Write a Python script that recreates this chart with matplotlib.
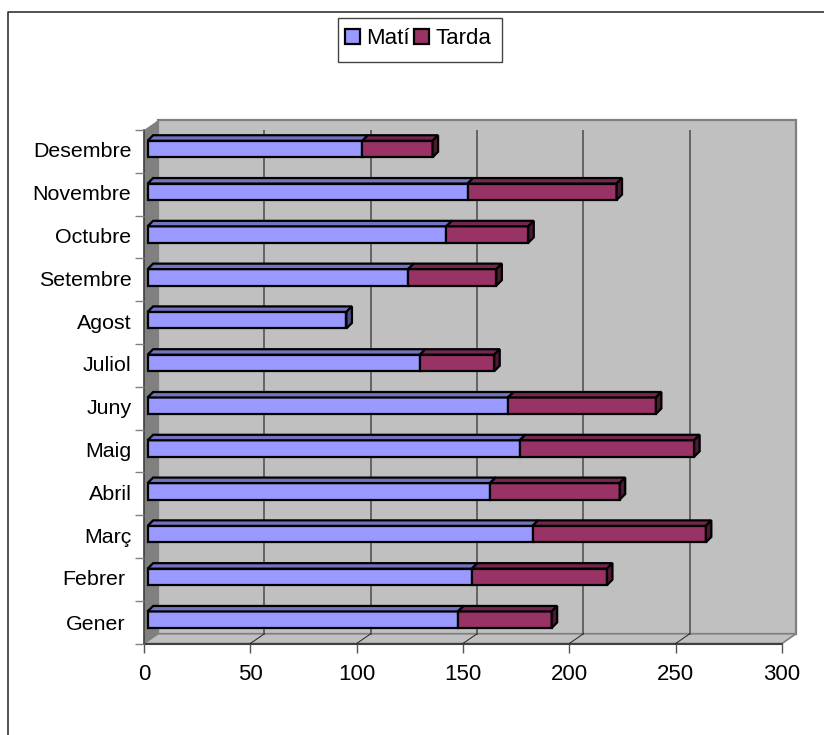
import matplotlib
matplotlib.use('Agg')
import matplotlib.pyplot as plt
from matplotlib.lines import Line2D
from matplotlib.patches import Patch, Polygon, Rectangle
from matplotlib.transforms import Affine2D
import numpy as np

mesos = ['Gener', 'Febrer', 'Març', 'Abril', 'Maig', 'Juny', 'Juliol',
         'Agost', 'Setembre', 'Octubre', 'Novembre', 'Desembre']
mati = [146, 152.5, 181, 161, 175, 169.5, 128, 93.5, 122.5, 140.5, 150.5, 101]
tarda = [44, 63.5, 81.5, 61, 82, 69.5, 35, 0, 41.5, 38.5, 70, 33]
ticks_x = [0, 50, 100, 150, 200, 250, 300]

plt.rcParams['font.family'] = ['Liberation Sans', 'DejaVu Sans']

W, H = 824, 735
fig = plt.figure(figsize=(W / 100, H / 100), dpi=100)
# front plane of the fake 3d box, in pixels
left, right, top, bottom = 144, 782, 130, 643.5
ax = fig.add_axes([left / W, 1 - bottom / H, (right - left) / W, (bottom - top) / H])
ax.set_xlim(0, 300)
ax.set_ylim(-0.5, 11.5)
ax.set_facecolor('none')
for s in ax.spines.values():
    s.set_visible(False)

ux = 300 / (right - left)
uy = 12 / (bottom - top)
box_dx, box_dy = 14 * ux, 9.7 * uy
bar_x, bar_y = 3.6 * ux, 2.4 * uy
bar_dx, bar_dy = 5.5 * ux, 5.5 * uy
bar_h = 16.5 * uy


def face(pts, color, edge='none', lw=0, z=1):
    ax.add_patch(Polygon(pts, closed=True, facecolor=color, edgecolor=edge,
                         linewidth=lw, zorder=z, clip_on=False, joinstyle='miter'))


# walls and floor
y0, y1 = -0.5, 11.5
face([(box_dx, y0 + box_dy), (300 + box_dx, y0 + box_dy), (300 + box_dx, y1 + box_dy),
      (box_dx, y1 + box_dy)], '#c0c0c0', '#808080', 1.6, 1)
face([(0, y0), (box_dx, y0 + box_dy), (box_dx, y1 + box_dy), (0, y1)], '#808080', z=1.2)
face([(0, y0), (300, y0), (300 + box_dx, y0 + box_dy), (box_dx, y0 + box_dy)],
     '#c0c0c0', '#808080', 1.2, 1.2)
ax.plot([0, 300], [y0, y0], color='#404040', lw=1.5, zorder=1.5, clip_on=False)
ax.plot([0, 0], [y0, y1], color='#404040', lw=1.2, zorder=1.5, clip_on=False)

# gridlines on the back wall and the floor
for v in ticks_x[1:-1]:
    ax.plot([v + box_dx, v + box_dx], [y0 + box_dy, y1 + box_dy], color='#555555', lw=1.2, zorder=1.6)
    ax.plot([v, v + box_dx], [y0, y0 + box_dy], color='#222222', lw=0.7, zorder=1.6, clip_on=False)

# bars
y = np.arange(len(mesos))
series = [(mati, [0] * 12, '#9999ff', '#7373bf'),
          (tarda, mati, '#993366', '#732650')]
for vals, starts, col, col_top in series:
    ax.barh(y + bar_y, vals, left=np.array(starts) + bar_x, height=bar_h, color=col,
            edgecolor='black', linewidth=1.6, zorder=3)
    for i in range(len(mesos)):
        if vals[i] == 0:
            continue
        a = starts[i] + bar_x
        b = a + vals[i]
        t = i + bar_y + bar_h / 2
        face([(a, t), (b, t), (b + bar_dx, t + bar_dy), (a + bar_dx, t + bar_dy)],
             col_top, 'black', 1.6, 3)

for i in range(len(mesos)):
    # side face belongs to the last segment that has a value
    col = '#4d1933' if tarda[i] > 0 else '#4d4d80'
    b = mati[i] + tarda[i] + bar_x
    t = i + bar_y + bar_h / 2
    face([(b, t), (b + bar_dx, t + bar_dy), (b + bar_dx, t - bar_h + bar_dy), (b, t - bar_h)],
         col, 'black', 1.6, 3.1)

# axes ticks
ax.set_xticks(ticks_x)
ax.set_yticks(np.arange(-0.5, 12, 1))
ax.set_yticklabels([])
ax.set_yticks(y, labels=mesos, minor=True)
ax.tick_params(axis='x', length=6.5, width=1, color='#555555', pad=8, labelsize=16)
ax.tick_params(axis='y', which='major', length=6.5, width=1, color='#808080')
ax.tick_params(axis='y', which='minor', length=0, pad=9, labelsize=15.4)
for lab, txt in zip(ax.get_yticklabels(minor=True), mesos):
    if txt == 'Gener':
        lab.set_transform(lab.get_transform() + Affine2D().translate(-6, -0.5))
    elif txt == 'Febrer':
        lab.set_transform(lab.get_transform() + Affine2D().translate(-6, 1.5))
    else:
        lab.set_transform(lab.get_transform() + Affine2D().translate(0, 1.5))

# legend box is a bit taller than the legend's own padding allows
fig.add_artist(Rectangle((338 / W, 1 - 62 / H), 164 / W, 44 / H, transform=fig.transFigure,
                         facecolor='white', edgecolor='#444444', linewidth=1))
handles = [Patch(facecolor='#9999ff', edgecolor='black', linewidth=1.6, label='Matí'),
           Patch(facecolor='#993366', edgecolor='black', linewidth=1.6, label='Tarda')]
fig.legend(handles=handles, ncol=2, loc='center', bbox_to_anchor=(418 / W, 1 - 39 / H),
           fontsize=16, frameon=False, handlelength=0.68, handleheight=0.68,
           handletextpad=0.28, columnspacing=0.22, borderpad=0, borderaxespad=0)

# chart area border, only top and left are inside the picture
fig.add_artist(Line2D([8 / W, 8 / W, 1], [0, 1 - 12 / H, 1 - 12 / H], color='#222222', lw=1.1))

fig.savefig('out.png', dpi=100)
